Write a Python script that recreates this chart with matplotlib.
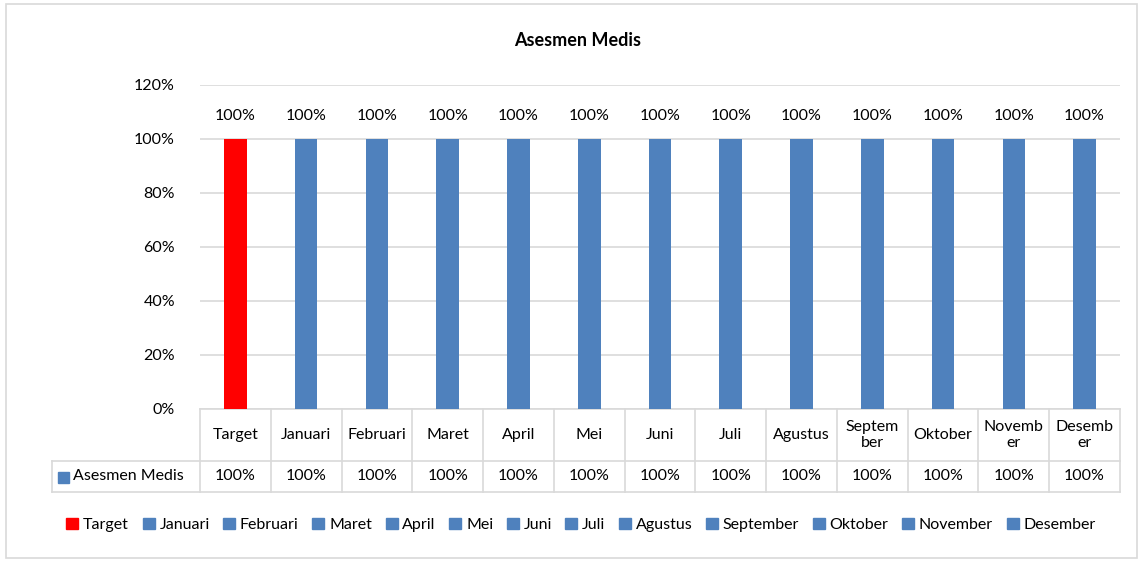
import matplotlib.pyplot as plt
from matplotlib.patches import Rectangle
from matplotlib.lines import Line2D
from matplotlib.transforms import blended_transform_factory

plt.rcParams['font.family'] = ['Lato', 'DejaVu Sans']

# data
categories = ["Target", "Januari", "Februari", "Maret", "April", "Mei", "Juni",
              "Juli", "Agustus", "September", "Oktober", "November", "Desember"]
table_labels = ["Target", "Januari", "Februari", "Maret", "April", "Mei", "Juni",
                "Juli", "Agustus", "Septem\nber", "Oktober", "Novemb\ner", "Desemb\ner"]
values = [1.0] * 13
series_name = "Asesmen Medis"
title = "Asesmen Medis"

RED = "#ff0000"
BLUE = "#4f81bd"
GRID = "#d9d9d9"
colors = [RED] + [BLUE] * 12
FS = 11.5

W, H = 1140, 562
fig = plt.figure(figsize=(W / 100, H / 100), dpi=100)

# outer chart border
fig.patches.append(Rectangle((6 / W, 4 / H), 1131 / W, 554 / H, transform=fig.transFigure,
                             fill=False, edgecolor=GRID, linewidth=1.2))

ax_l, ax_r, ax_t, ax_b = 200, 1120, 85, 409
ax = fig.add_axes([ax_l / W, 1 - ax_b / H, (ax_r - ax_l) / W, (ax_b - ax_t) / H])

x = list(range(len(categories)))
ax.bar(x, values, width=0.32, color=colors, zorder=3)
for xi, v in zip(x, values):
    ax.text(xi, v + 0.06, f"{v:.0%}", ha="center", va="bottom", fontsize=FS)

ax.set_xlim(-0.5, len(categories) - 0.5)
ax.set_ylim(0, 1.2)
ax.set_yticks([0, 0.2, 0.4, 0.6, 0.8, 1.0, 1.2])
ax.set_yticklabels([f"{t:.0%}" for t in ax.get_yticks()], fontsize=FS)
ax.set_xticks([])
ax.grid(axis="y", color=GRID, linewidth=1.2, zorder=0)
for s in ["top", "right", "left"]:
    ax.spines[s].set_visible(False)
ax.spines["bottom"].set_color(GRID)
ax.spines["bottom"].set_linewidth(1.2)
ax.tick_params(axis="y", length=0, pad=18)

fig.text(578 / W, 1 - 40 / H, title, ha="center", va="center", fontsize=13, fontweight="bold")

# data table below the axis
tr = blended_transform_factory(ax.transData, ax.transAxes)
hpx = ax_b - ax_t
px_per_unit = (ax_r - ax_l) / len(categories)
y_row1 = -(461 - ax_b) / hpx
y_row2 = -(492 - ax_b) / hpx
y_hdr = -(435 - ax_b) / hpx
y_val = -(476.5 - ax_b) / hpx
x_left = -0.5 - (ax_l - 52) / px_per_unit

lw = 1.2
for b in [i - 0.5 for i in range(len(categories) + 1)]:
    ax.add_line(Line2D([b, b], [0, y_row2], transform=tr, color=GRID, lw=lw, clip_on=False))
ax.add_line(Line2D([x_left, x_left], [y_row1, y_row2], transform=tr, color=GRID, lw=lw, clip_on=False))
for yy in [y_row1, y_row2]:
    ax.add_line(Line2D([x_left, len(categories) - 0.5], [yy, yy], transform=tr, color=GRID,
                       lw=lw, clip_on=False))

for xi, lab, v in zip(x, table_labels, values):
    ax.text(xi, y_hdr, lab, transform=tr, ha="center", va="center", fontsize=FS,
            linespacing=1.25)
    ax.text(xi, y_val, f"{v:.0%}", transform=tr, ha="center", va="center", fontsize=FS)

# series key in table
key_x = x_left + 6 / px_per_unit
ax.add_patch(Rectangle((key_x, y_val - 6 / hpx), 11 / px_per_unit, 11 / hpx, transform=tr,
                       color=BLUE, clip_on=False))
ax.text(key_x + 15 / px_per_unit, y_val, series_name, transform=tr, ha="left", va="center",
        fontsize=FS)

# legend
handles = [Rectangle((0, 0), 1, 1, color=c) for c in colors]
fig.legend(handles, categories, loc="center", bbox_to_anchor=(581 / W, 1 - 525 / H), ncol=13,
           frameon=False, fontsize=FS, handlelength=0.75, handleheight=0.75,
           handletextpad=0.3, columnspacing=0.85)

fig.savefig("out.png", dpi=100)
